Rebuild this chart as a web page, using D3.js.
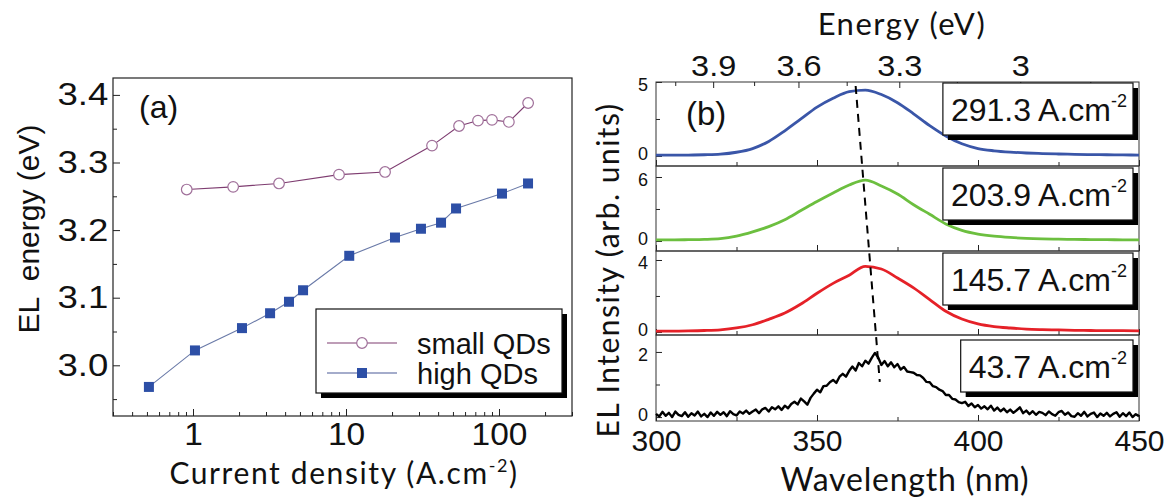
<!DOCTYPE html>
<html><head><meta charset="utf-8">
<script src="https://cdn.jsdelivr.net/npm/d3@7"></script>
<style>
body{margin:0;background:#fff;}
svg{display:block;}
</style></head><body>
<svg id="c" width="1172" height="500"></svg>
<script>
// ---------- Panel (a) data ----------
const currentSmall = [0.91, 1.83, 3.65, 9.0, 18.0, 36.5, 54.8, 72.9, 90, 116, 155];
const energySmall  = [3.260, 3.264, 3.269, 3.282, 3.286, 3.325, 3.354, 3.362, 3.363, 3.360, 3.388];
const currentHigh  = [0.515, 1.03, 2.09, 3.19, 4.24, 5.24, 10.5, 20.9, 30.9, 41.8, 52.4, 104.6, 154.8];
const energyHigh   = [2.968, 3.022, 3.055, 3.077, 3.094, 3.111, 3.162, 3.189, 3.202, 3.211, 3.232, 3.254, 3.269];
const seriesNamesA = ["small QDs", "high QDs"];
const yTicksA = [3.0, 3.1, 3.2, 3.3, 3.4];
const yMinorA = [2.95, 3.05, 3.15, 3.25, 3.35];
const xTicksA = [1, 10, 100];
const xMinorA = [0.3,0.4,0.5,0.6,0.7,0.8,0.9,2,3,4,5,6,7,8,9,20,30,40,50,60,70,80,90,200,300];

// ---------- Panel (b) data ----------
const wavelength5 = [300,305,310,315,320,325,330,335,340,345,350,355,360,365,370,375,380,385,390,395,400,405,410,415,420,425,430,435,440,445,450];
const intensity291 = [0.05,0.05,0.06,0.08,0.12,0.25,0.5,0.98,1.7,2.5,3.3,3.9,4.35,4.45,4.15,3.6,2.85,2.05,1.35,0.82,0.5,0.35,0.26,0.2,0.16,0.13,0.11,0.09,0.08,0.07,0.06];
const intensity204 = [0.1,0.1,0.12,0.15,0.22,0.45,0.85,1.35,2.0,2.85,3.7,4.5,5.25,5.7,5.15,4.4,3.4,2.5,1.6,1.0,0.65,0.45,0.33,0.25,0.2,0.17,0.15,0.13,0.12,0.11,0.1];
const intensity146 = [0.05,0.05,0.06,0.08,0.12,0.22,0.4,0.7,1.05,1.55,2.15,2.7,3.15,3.65,3.5,3.0,2.45,1.8,1.15,0.72,0.45,0.3,0.22,0.16,0.13,0.11,0.09,0.08,0.07,0.07,0.06];
const wavelength1Start = 300; // 1 nm step for the noisy spectrum
const intensity44 = [
0.10,0.02,0.16,0.04,0.13,0.00,0.17,0.07,0.03,0.15,
0.01,0.12,0.05,0.17,0.02,0.10,0.00,0.14,0.04,0.16,
0.07,0.15,0.03,0.18,0.09,0.05,0.17,0.11,0.20,0.10,
0.17,0.23,0.12,0.24,0.28,0.17,0.30,0.24,0.33,0.22,
0.35,0.27,0.40,0.47,0.39,0.57,0.48,0.38,0.59,0.72,
0.84,0.76,0.95,0.96,1.07,1.14,1.05,1.24,1.33,1.24,
1.42,1.55,1.43,1.66,1.56,1.73,1.64,1.82,1.97,1.83,
1.60,1.72,1.56,1.68,1.53,1.63,1.46,1.54,1.40,1.38,
1.36,1.29,1.28,1.20,1.08,1.07,0.95,0.92,0.84,0.80,
0.68,0.68,0.56,0.54,0.46,0.43,0.47,0.34,0.42,0.30,
0.37,0.26,0.33,0.24,0.35,0.20,0.29,0.18,0.26,0.15,
0.23,0.13,0.21,0.30,0.12,0.20,0.09,0.18,0.07,0.16,
0.13,0.06,0.17,0.09,0.04,0.15,0.19,0.07,0.14,0.03,
0.01,0.12,0.04,0.16,0.02,0.10,0.14,0.00,0.11,0.04,
0.13,0.02,0.10,0.15,0.01,0.12,0.03,0.14,0.00,0.09,
0.03];
const currentLabels = ["291.3", "203.9", "145.7", "43.7"];
const yDomainsB = [[-0.68, 5.0], [-0.94, 7.03], [-0.17, 4.5], [-0.12, 2.52]];
const yTicksB = [[0, 2.5, 5], [0, 3, 6], [0, 2, 4], [0, 1, 2]];
const xTicksB = [300, 350, 400, 450];
const xMinorB = [325, 375, 425];
const energyTicks = [3.9, 3.6, 3.3, 3.0];
const energyMinor = [4.05, 3.75, 3.45, 3.15, 2.85];
const peakWl = [362, 369.5];      // dashed line end points (nm)
const peakVal = [4.73, 1.08];     // in panel 1 and panel 4 units

const FA = "'Liberation Sans', Arial, Helvetica, sans-serif";
const FC = "Lato, 'Open Sans', sans-serif";
const svg = d3.select("#c");

// ================= Panel (a) =================
const aL = 113, aR = 572, aT = 78, aB = 416;
const ax = d3.scaleLog().domain([0.3, 300]).range([aL, aR]);
const ay = d3.scaleLinear().domain([2.925, 3.425]).range([aB, aT]);
const gA = svg.append("g");

function styleAxis(g){
  g.select(".domain").remove();
  g.selectAll(".tick line").attr("stroke", "#222").attr("stroke-width", 1);
}
gA.append("g").attr("transform", `translate(0,${aB})`)
  .call(d3.axisBottom(ax).tickValues(xMinorA).tickSize(-4).tickFormat(""))
  .call(styleAxis);
const xa = gA.append("g").attr("transform", `translate(0,${aB})`)
  .call(d3.axisBottom(ax).tickValues(xTicksA).tickSize(-7).tickPadding(7).tickFormat(d3.format("d")))
  .call(styleAxis);
xa.selectAll("text").attr("font-family", FA).attr("font-size", 31).attr("fill", "#111")
  .attr("transform", "scale(1.08,1)");

gA.append("g").attr("transform", `translate(${aL},0)`)
  .call(d3.axisLeft(ay).tickValues(yMinorA).tickSize(-4).tickFormat(""))
  .call(styleAxis);
const ya = gA.append("g").attr("transform", `translate(${aL},0)`)
  .call(d3.axisLeft(ay).tickValues(yTicksA).tickSize(-7).tickPadding(4).tickFormat(d3.format(".1f")))
  .call(styleAxis);
ya.selectAll("text").attr("font-family", FA).attr("font-size", 31).attr("fill", "#111")
  .attr("transform", "scale(1.18,1)");

gA.append("rect").attr("x", aL).attr("y", aT).attr("width", aR - aL).attr("height", aB - aT)
  .attr("fill", "none").attr("stroke", "#222").attr("stroke-width", 1.2);

const smallData = currentSmall.map((c, i) => ({c, e: energySmall[i]}));
const highData = currentHigh.map((c, i) => ({c, e: energyHigh[i]}));
const lineA = d3.line().x(d => ax(d.c)).y(d => ay(d.e));
gA.append("path").attr("d", lineA(smallData)).attr("fill", "none").attr("stroke", "#7e3c70").attr("stroke-width", 1.1);
gA.append("path").attr("d", lineA(highData)).attr("fill", "none").attr("stroke", "#6a7aa8").attr("stroke-width", 1.1);
gA.selectAll(".cs").data(smallData).join("circle")
  .attr("cx", d => ax(d.c)).attr("cy", d => ay(d.e)).attr("r", 5.3)
  .attr("fill", "#fff").attr("stroke", "#a0709a").attr("stroke-width", 1.2);
gA.selectAll(".sq").data(highData).join("rect")
  .attr("x", d => ax(d.c) - 5).attr("y", d => ay(d.e) - 5).attr("width", 10).attr("height", 10)
  .attr("fill", "#2d4fa6");

gA.append("text").attr("x", 139).attr("y", 118).attr("font-family", FA).attr("font-size", 32).attr("fill", "#111").text("(a)");

// legend
const lg = gA.append("g");
lg.append("rect").attr("x", 321).attr("y", 314).attr("width", 246).attr("height", 84).attr("fill", "#000");
lg.append("rect").attr("x", 316).attr("y", 309).attr("width", 246).attr("height", 84).attr("fill", "#fff").attr("stroke", "#111").attr("stroke-width", 1.2);
const legY = [343, 373];
lg.append("line").attr("x1", 327).attr("x2", 397).attr("y1", legY[0]).attr("y2", legY[0]).attr("stroke", "#7e3c70").attr("stroke-width", 1.1);
lg.append("circle").attr("cx", 362).attr("cy", legY[0]).attr("r", 5.3).attr("fill", "#fff").attr("stroke", "#a0709a").attr("stroke-width", 1.2);
lg.append("line").attr("x1", 327).attr("x2", 397).attr("y1", legY[1]).attr("y2", legY[1]).attr("stroke", "#4a5a98").attr("stroke-width", 1.1);
lg.append("rect").attr("x", 357).attr("y", legY[1] - 5).attr("width", 10).attr("height", 10).attr("fill", "#2d4fa6");
seriesNamesA.forEach((n, i) => {
  lg.append("text").attr("x", 417).attr("y", legY[i] + 11).attr("font-family", FA).attr("font-size", 29).attr("fill", "#111").text(n);
});

// axis titles (a)
gA.append("text").attr("transform", "translate(39,229) rotate(-90)").attr("text-anchor", "middle")
  .attr("font-family", FA).attr("font-size", 30).attr("fill", "#111").attr("xml:space", "preserve").text("EL  energy (eV)");
const xtA = gA.append("text").attr("x", 344).attr("y", 484).attr("text-anchor", "middle")
  .attr("font-family", FC).attr("font-size", 30).attr("letter-spacing", 1.6).attr("fill", "#111");
xtA.append("tspan").text("Current density (A.cm");
xtA.append("tspan").attr("font-size", 18).attr("dy", -12).text("-2");
xtA.append("tspan").attr("dy", 12).text(")");

// ================= Panel (b) =================
const bL = 656, bR = 1139;
const subTop = [82, 166, 251, 335];
const subBot = [166, 251, 335, 421];
const bx = d3.scaleLinear().domain([300, 450]).range([bL, bR]);
const gB = svg.append("g");
const colors = ["#3a56a8", "#6cbf3f", "#e52128", "#000"];
const spectra = [intensity291, intensity204, intensity146];
const ys = yDomainsB.map((dom, i) => d3.scaleLinear().domain(dom).range([subBot[i], subTop[i]]));

ys.forEach((y, i) => {
  const g = gB.append("g");
  g.append("g").attr("transform", `translate(0,${subBot[i]})`)
    .call(d3.axisBottom(bx).tickValues(xMinorB).tickSize(-4).tickFormat("")).call(styleAxis);
  const xb = g.append("g").attr("transform", `translate(0,${subBot[i]})`)
    .call(d3.axisBottom(bx).tickValues(xTicksB).tickSize(-6).tickPadding(9).tickFormat(i === 3 ? d3.format("d") : ""))
    .call(styleAxis);
  xb.selectAll("text").attr("font-family", FA).attr("font-size", 30).attr("fill", "#111");
  const t = yTicksB[i];
  g.append("g").attr("transform", `translate(${bL},0)`)
    .call(d3.axisLeft(y).tickValues([t[1]]).tickSize(-4).tickFormat("")).call(styleAxis);
  const yl = g.append("g").attr("transform", `translate(${bL},0)`)
    .call(d3.axisLeft(y).tickValues([t[0], t[2]]).tickSize(-6).tickPadding(8).tickFormat(d3.format("d")))
    .call(styleAxis);
  yl.selectAll("text").attr("font-family", FA).attr("font-size", 18).attr("fill", "#111")
    .attr("dy", d => (d === 0 ? "0.2em" : "0.45em"));
  g.append("rect").attr("x", bL).attr("y", subTop[i]).attr("width", bR - bL).attr("height", subBot[i] - subTop[i])
    .attr("fill", "none").attr("stroke", "#333").attr("stroke-width", 1);
  let pts;
  if (i < 3) pts = wavelength5.map((w, k) => [w, spectra[i][k]]);
  else pts = intensity44.map((v, k) => [wavelength1Start + k, v]);
  const ln = d3.line().x(d => bx(d[0])).y(d => y(d[1]));
  if (i < 3) ln.curve(d3.curveMonotoneX);
  g.append("path").attr("d", ln(pts)).attr("fill", "none").attr("stroke", colors[i])
    .attr("stroke-width", i < 3 ? 2.8 : 2.4).attr("stroke-linejoin", "round");
});

// top energy axis
const eToWl = e => 1239.84 / e;
energyTicks.forEach(e => {
  gB.append("line").attr("x1", bx(eToWl(e))).attr("x2", bx(eToWl(e))).attr("y1", subTop[0]).attr("y2", subTop[0] + 6).attr("stroke", "#222");
  gB.append("text").attr("transform", `translate(${bx(eToWl(e))},76) scale(1.12,1)`).attr("text-anchor", "middle")
    .attr("font-family", FA).attr("font-size", 29).attr("fill", "#111").text(d3.format("~g")(e));
});
energyMinor.forEach(e => {
  gB.append("line").attr("x1", bx(eToWl(e))).attr("x2", bx(eToWl(e))).attr("y1", subTop[0]).attr("y2", subTop[0] + 4).attr("stroke", "#222");
});

// dashed peak line
gB.append("line")
  .attr("x1", bx(peakWl[0])).attr("y1", ys[0](peakVal[0]))
  .attr("x2", bx(peakWl[1])).attr("y2", ys[3](peakVal[1]))
  .attr("stroke", "#000").attr("stroke-width", 2).attr("stroke-dasharray", "8,6");

// current density boxes
const boxTopOff = [1, 2, 2, 5];
currentLabels.forEach((lab, i) => {
  const g = gB.append("g");
  const txt = g.append("text").attr("font-family", FA).attr("font-size", 32).attr("fill", "#111");
  txt.append("tspan").text(lab + " A.cm");
  txt.append("tspan").attr("font-size", 18).attr("dy", -14).text("-2");
  const w = txt.node().getComputedTextLength();
  const right = 1133, top = subTop[i] + boxTopOff[i], h = 52;
  const left = right - w - 14;
  g.insert("rect", "text").attr("x", left + 5).attr("y", top + 5).attr("width", right - left).attr("height", h).attr("fill", "#000");
  g.insert("rect", "text").attr("x", left).attr("y", top).attr("width", right - left).attr("height", h)
    .attr("fill", "#fff").attr("stroke", "#111").attr("stroke-width", 1.2);
  txt.attr("x", left + 8).attr("y", top + 38);
});

gB.append("text").attr("x", 686).attr("y", 125).attr("font-family", FA).attr("font-size", 33).attr("fill", "#111").text("(b)");

// titles (b)
gB.append("text").attr("x", 902).attr("y", 35).attr("text-anchor", "middle")
  .attr("font-family", FC).attr("font-size", 31).attr("letter-spacing", 1.5).attr("fill", "#111").text("Energy (eV)");
gB.append("text").attr("x", 905).attr("y", 491).attr("text-anchor", "middle")
  .attr("font-family", FC).attr("font-size", 32).attr("letter-spacing", 0.8).attr("fill", "#111").text("Wavelength (nm)");
gB.append("text").attr("transform", "translate(619,270) rotate(-90)").attr("text-anchor", "middle")
  .attr("font-family", FC).attr("font-size", 30).attr("letter-spacing", 1.5).attr("fill", "#111").text("EL Intensity (arb. units)");
</script>
</body></html>
